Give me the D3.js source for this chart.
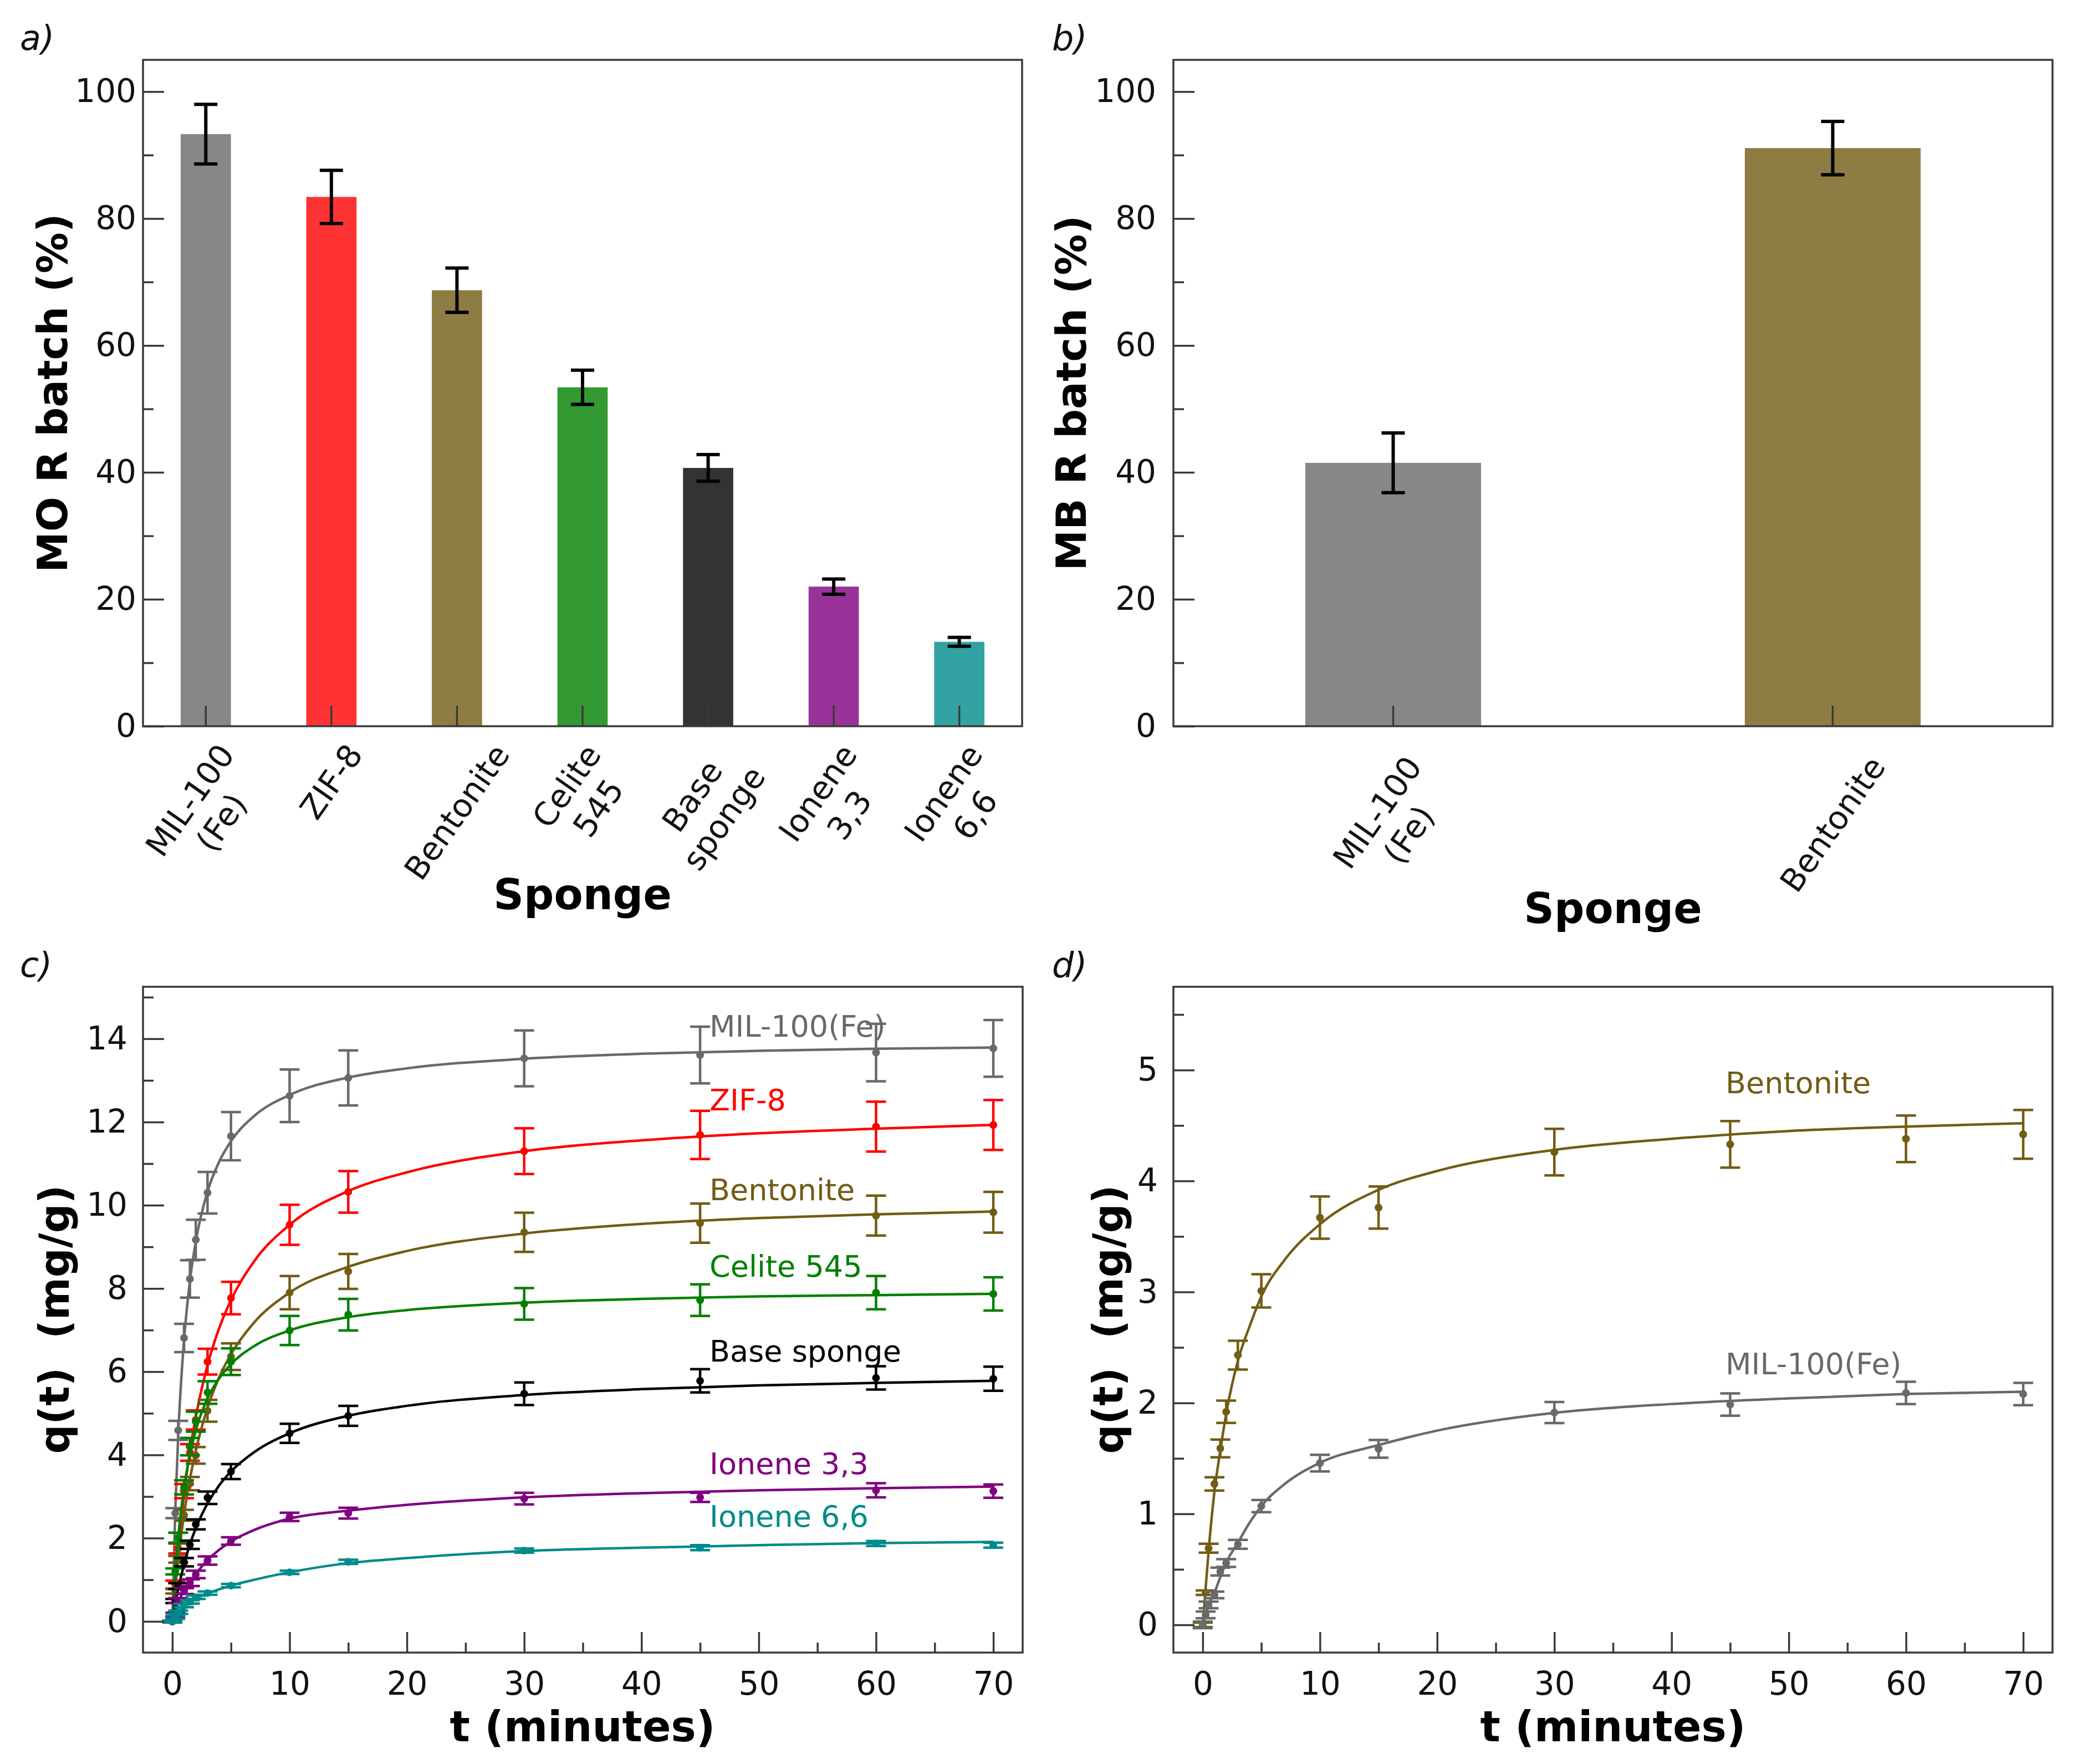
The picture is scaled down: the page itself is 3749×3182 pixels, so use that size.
<!DOCTYPE html>
<html lang="en">
<head>
<meta charset="UTF-8" />
<title>Sponge dye removal and kinetics</title>
<script src="https://cdnjs.cloudflare.com/ajax/libs/d3/7.8.5/d3.min.js"></script>
<style>
    body { margin: 0; background: #ffffff; }
    svg { display: block; font-family: "DejaVu Sans", sans-serif; }
</style>
</head>
<body>
<svg id="fig" width="3749" height="3182"></svg>
<script>
    // ---- panel a: MO removal, batch ----
    var spongesA = ["MIL-100\n(Fe)", "ZIF-8", "Bentonite", "Celite\n545", "Base\nsponge", "Ionene\n3,3", "Ionene\n6,6"];
    var removalMO = [93.3, 83.4, 68.7, 53.4, 40.7, 22.0, 13.3];
    var removalMOErr = [4.7, 4.2, 3.5, 2.7, 2.1, 1.2, 0.7];
    var colorsA = ["#696969", "#ff0000", "#725c14", "#008000", "#000000", "#800080", "#008b8b"];

    // ---- panel b: MB removal, batch ----
    var spongesB = ["MIL-100\n(Fe)", "Bentonite"];
    var removalMB = [41.5, 91.1];
    var removalMBErr = [4.7, 4.2];
    var colorsB = ["#696969", "#725c14"];

    // ---- panel c: MO kinetics ----
    var seriesC = ["MIL-100(Fe)", "ZIF-8", "Bentonite", "Celite 545", "Base sponge", "Ionene 3,3", "Ionene 6,6"];
    var colorsC = ["#696969", "#ff0000", "#725c14", "#008000", "#000000", "#800080", "#008b8b"];
    var timeC = [0, 0.25, 0.5, 1, 1.5, 2, 3, 5, 10, 15, 30, 45, 60, 70];
    var qMil = [0, 2.6, 4.59, 6.81, 8.23, 9.17, 10.30, 11.66, 12.63, 13.06, 13.53, 13.61, 13.67, 13.77];
    var qMilErr = [0.02, 0.12, 0.23, 0.34, 0.45, 0.48, 0.5, 0.58, 0.63, 0.66, 0.67, 0.68, 0.69, 0.68];
    var qZif = [0, 0.88, 1.75, 3.13, 4.06, 4.84, 6.24, 7.77, 9.53, 10.32, 11.30, 11.69, 11.89, 11.93];
    var qZifErr = [0.02, 0.1, 0.12, 0.17, 0.2, 0.23, 0.31, 0.39, 0.48, 0.5, 0.55, 0.58, 0.6, 0.6];
    var qBen = [0, 0.73, 1.49, 2.55, 3.31, 3.99, 5.06, 6.36, 7.90, 8.41, 9.35, 9.57, 9.75, 9.83];
    var qBenErr = [0.02, 0.06, 0.08, 0.13, 0.16, 0.2, 0.26, 0.32, 0.4, 0.42, 0.47, 0.47, 0.48, 0.49];
    var qCel = [0, 1.2, 2.01, 3.22, 4.2, 4.8, 5.5, 6.24, 6.99, 7.37, 7.63, 7.72, 7.90, 7.87];
    var qCelErr = [0.02, 0.07, 0.12, 0.17, 0.21, 0.24, 0.27, 0.32, 0.35, 0.38, 0.38, 0.38, 0.4, 0.4];
    var qBase = [0, 0.49, 0.85, 1.42, 1.84, 2.33, 2.97, 3.60, 4.52, 4.94, 5.47, 5.78, 5.85, 5.83];
    var qBaseErr = [0.02, 0.05, 0.07, 0.1, 0.1, 0.12, 0.15, 0.18, 0.23, 0.24, 0.27, 0.28, 0.28, 0.29];
    var qI33 = [0, 0.16, 0.5, 0.73, 0.93, 1.13, 1.46, 1.93, 2.51, 2.60, 2.95, 2.98, 3.15, 3.13];
    var qI33Err = [0.02, 0.05, 0.06, 0.07, 0.08, 0.09, 0.1, 0.09, 0.1, 0.13, 0.14, 0.11, 0.17, 0.16];
    var qI66 = [0, 0.1, 0.22, 0.38, 0.47, 0.58, 0.68, 0.86, 1.18, 1.43, 1.70, 1.77, 1.87, 1.83];
    var qI66Err = [0.02, 0.04, 0.04, 0.04, 0.04, 0.04, 0.04, 0.04, 0.04, 0.05, 0.05, 0.06, 0.06, 0.06];

    // fitted curves
    var timeFit = [0, 0.25, 0.5, 1, 1.5, 2, 3, 4, 5, 7, 10, 15, 20, 30, 40, 50, 60, 70];
    var fitMil = [0, 2.66, 4.47, 6.77, 8.18, 9.13, 10.33, 11.05, 11.54, 12.15, 12.65, 13.07, 13.29, 13.52, 13.64, 13.71, 13.76, 13.79];
    var fitZif = [0, 0.94, 1.75, 3.06, 4.09, 4.91, 6.16, 7.05, 7.72, 8.66, 9.53, 10.34, 10.79, 11.30, 11.56, 11.73, 11.84, 11.93];
    var fitBen = [0, 0.79, 1.47, 2.57, 3.42, 4.10, 5.13, 5.87, 6.42, 7.19, 7.90, 8.52, 8.90, 9.32, 9.55, 9.69, 9.78, 9.85];
    var fitCel = [0, 1.15, 2.01, 3.21, 4.01, 4.59, 5.36, 5.84, 6.18, 6.62, 6.99, 7.31, 7.48, 7.66, 7.75, 7.81, 7.84, 7.87];
    var fitBase = [0, 0.41, 0.77, 1.37, 1.85, 2.24, 2.83, 3.27, 3.60, 4.07, 4.52, 4.94, 5.18, 5.44, 5.58, 5.67, 5.73, 5.78];
    var fitI33 = [0, 0.2, 0.45, 0.74, 0.95, 1.14, 1.47, 1.72, 1.92, 2.2, 2.47, 2.66, 2.8, 2.98, 3.08, 3.15, 3.2, 3.24];
    var fitI66 = [0, 0.1, 0.2, 0.36, 0.46, 0.55, 0.67, 0.77, 0.86, 1.0, 1.18, 1.4, 1.52, 1.69, 1.77, 1.83, 1.88, 1.91];
    var labelPosC = [14.05, 12.28, 10.12, 8.28, 6.24, 3.54, 2.27];

    // ---- panel d: MB kinetics ----
    var seriesD = ["Bentonite", "MIL-100(Fe)"];
    var colorsD = ["#725c14", "#696969"];
    var timeD = [0, 0.25, 0.5, 1, 1.5, 2, 3, 5, 10, 15, 30, 45, 60, 70];
    var qBenD = [0, 0.29, 0.69, 1.27, 1.59, 1.92, 2.43, 3.01, 3.67, 3.76, 4.26, 4.33, 4.38, 4.42];
    var qBenDErr = [0.02, 0.02, 0.04, 0.06, 0.08, 0.1, 0.13, 0.15, 0.19, 0.19, 0.21, 0.21, 0.21, 0.22];
    var qMilD = [0, 0.09, 0.18, 0.27, 0.48, 0.557, 0.725, 1.07, 1.457, 1.586, 1.913, 1.985, 2.09, 2.08];
    var qMilDErr = [0.03, 0.03, 0.03, 0.03, 0.035, 0.035, 0.04, 0.055, 0.075, 0.08, 0.095, 0.1, 0.1, 0.1];
    var fitBenD = [0, 0.33, 0.66, 1.2, 1.57, 1.9, 2.38, 2.69, 2.96, 3.29, 3.61, 3.92, 4.09, 4.28, 4.38, 4.45, 4.49, 4.52];
    var fitMilD = [0, 0.09, 0.18, 0.29, 0.43, 0.56, 0.74, 0.92, 1.07, 1.27, 1.46, 1.62, 1.75, 1.91, 1.99, 2.04, 2.08, 2.10];
    var labelPosD = [4.79, 2.26];

    var svg = d3.select("#fig");
    svg.append("rect").attr("width", 3749).attr("height", 3182).attr("fill", "#ffffff");

    var spine = "#3a3a3a";

    // frame round a plot box
    function frame(x0, y0, x1, y1) {
        svg.append("rect")
            .attr("x", x0).attr("y", y0)
            .attr("width", x1 - x0).attr("height", y1 - y0)
            .attr("fill", "none").attr("stroke", spine).attr("stroke-width", 3.5);
    }

    // inward ticks with d3 axes, labels optional
    function styleAxis(g) {
        g.select(".domain").remove();
        g.selectAll(".tick line").attr("stroke", spine).attr("stroke-width", 3.5);
        g.selectAll(".tick text")
            .attr("fill", "#111")
            .attr("font-size", 58)
            .attr("font-family", "DejaVu Sans, sans-serif");
    }

    function leftAxis(y, x0, major, minor, pad, fmt) {
        var g = svg.append("g").attr("transform", "translate(" + x0 + ",0)");
        g.call(d3.axisLeft(y).tickValues(minor).tickSize(-19).tickFormat(""));
        styleAxis(g);
        var g2 = svg.append("g").attr("transform", "translate(" + x0 + ",0)");
        g2.call(d3.axisLeft(y).tickValues(major).tickSize(-38).tickPadding(pad).tickFormat(fmt || d3.format("d")));
        styleAxis(g2);
    }

    function bottomAxis(x, y0, major, minor, pad) {
        if (minor) {
            var g = svg.append("g").attr("transform", "translate(0," + y0 + ")");
            g.call(d3.axisBottom(x).tickValues(minor).tickSize(-18).tickFormat(""));
            styleAxis(g);
        }
        var g2 = svg.append("g").attr("transform", "translate(0," + y0 + ")");
        g2.call(d3.axisBottom(x).tickValues(major).tickSize(-37).tickPadding(pad).tickFormat(d3.format("d")));
        styleAxis(g2);
        return g2;
    }

    // rotated category labels, bbox centred on the tick, top at a fixed line
    function rotatedLabels(labels, xs, top, angle) {
        var a = angle * Math.PI / 180;
        labels.forEach(function (lab, i) {
            var t = svg.append("text")
                .attr("text-anchor", "middle")
                .attr("font-size", 58)
                .attr("fill", "#111");
            lab.split("\n").forEach(function (line, k) {
                t.append("tspan").attr("x", 0).attr("dy", k === 0 ? 0 : "1.2em").text(line);
            });
            var b = t.node().getBBox();
            var pts = [[b.x, b.y], [b.x + b.width, b.y], [b.x, b.y + b.height], [b.x + b.width, b.y + b.height]]
                .map(function (p) {
                    return [p[0] * Math.cos(a) + p[1] * Math.sin(a), -p[0] * Math.sin(a) + p[1] * Math.cos(a)];
                });
            var minX = d3.min(pts, p => p[0]), maxX = d3.max(pts, p => p[0]), minY = d3.min(pts, p => p[1]);
            t.attr("transform", "translate(" + (xs[i] - (minX + maxX) / 2) + "," + (top - minY) + ") rotate(" + (-angle) + ")");
        });
    }

    function yLabel(text, x, y) {
        svg.append("text")
            .attr("transform", "translate(" + x + "," + y + ") rotate(-90)")
            .attr("text-anchor", "middle")
            .attr("font-size", 74).attr("font-weight", "bold")
            .attr("fill", "#000")
            .style("white-space", "pre")
            .text(text);
    }

    function xLabel(text, x, y) {
        svg.append("text")
            .attr("x", x).attr("y", y)
            .attr("text-anchor", "middle")
            .attr("font-size", 76).attr("font-weight", "bold")
            .attr("fill", "#000")
            .text(text);
    }

    function panelLetter(text, x, y) {
        svg.append("text")
            .attr("x", x).attr("y", y)
            .attr("font-size", 62).attr("font-style", "italic")
            .attr("fill", "#111")
            .text(text);
    }

    // bar panel with error bars
    function barPanel(cats, vals, errs, colors, box, pad, labelTop) {
        var x = d3.scaleBand()
            .domain(d3.range(cats.length))
            .range([box.x0, box.x1])
            .paddingInner(0.6)
            .paddingOuter(0.3);
        var y = d3.scaleLinear().domain([0, 105]).range([box.y1, box.y0]);

        svg.append("g").selectAll("rect")
            .data(vals)
            .enter()
            .append("rect")
            .attr("x", (d, i) => x(i))
            .attr("y", d => y(d))
            .attr("width", x.bandwidth())
            .attr("height", d => y(0) - y(d))
            .attr("fill", (d, i) => colors[i])
            .attr("fill-opacity", 0.8);

        var eb = svg.append("g").attr("stroke", "#000").attr("stroke-width", 6);
        vals.forEach(function (v, i) {
            var cx = x(i) + x.bandwidth() / 2;
            eb.append("line").attr("x1", cx).attr("x2", cx).attr("y1", y(v - errs[i])).attr("y2", y(v + errs[i]));
            [v - errs[i], v + errs[i]].forEach(function (e) {
                eb.append("line").attr("x1", cx - 21).attr("x2", cx + 21).attr("y1", y(e)).attr("y2", y(e));
            });
        });

        leftAxis(y, box.x0, [0, 20, 40, 60, 80, 100], [10, 30, 50, 70, 90], pad);
        var gb = svg.append("g").attr("transform", "translate(0," + box.y1 + ")");
        gb.call(d3.axisBottom(x).tickSize(-37).tickFormat(""));
        styleAxis(gb);
        frame(box.x0, box.y0, box.x1, box.y1);

        rotatedLabels(cats, cats.map((c, i) => x(i) + x.bandwidth() / 2), labelTop, 55);
    }

    // kinetics panel
    function kineticsPanel(box, yDom, yMajor, yMinor, series, fmtY) {
        var x = d3.scaleLinear().domain([-2.5, 72.5]).range([box.x0, box.x1]);
        var y = d3.scaleLinear().domain(yDom).range([box.y1, box.y0]);
        var line = d3.line()
            .x(d => x(d[0]))
            .y(d => y(d[1]))
            .curve(d3.curveMonotoneX);

        series.forEach(function (s) {
            var g = svg.append("g");
            var eb = g.append("g").attr("stroke", s.color).attr("stroke-width", 4.5);
            s.t.forEach(function (t, i) {
                var cx = x(t), lo = s.q[i] - s.e[i], hi = s.q[i] + s.e[i];
                eb.append("line").attr("x1", cx).attr("x2", cx).attr("y1", y(lo)).attr("y2", y(hi));
                [lo, hi].forEach(function (e) {
                    eb.append("line").attr("x1", cx - 18).attr("x2", cx + 18).attr("y1", y(e)).attr("y2", y(e));
                });
            });
            g.append("path")
                .datum(timeFit.map((t, i) => [t, s.fit[i]]))
                .attr("d", line)
                .attr("fill", "none")
                .attr("stroke", s.color)
                .attr("stroke-width", 4.5);
            g.selectAll("circle")
                .data(s.t)
                .enter()
                .append("circle")
                .attr("cx", d => x(d))
                .attr("cy", (d, i) => y(s.q[i]))
                .attr("r", 7)
                .attr("fill", s.color);
        });

        series.forEach(function (s) {
            svg.append("text")
                .attr("x", x(s.lx)).attr("y", y(s.ly))
                .attr("font-size", 54)
                .attr("fill", s.color)
                .text(s.name);
        });

        leftAxis(y, box.x0, yMajor, yMinor, 28, fmtY);
        bottomAxis(x, box.y1, [0, 10, 20, 30, 40, 50, 60, 70], [5, 15, 25, 35, 45, 55, 65], 35);
        frame(box.x0, box.y0, box.x1, box.y1);
    }

    // ---- draw ----
    barPanel(spongesA, removalMO, removalMOErr, colorsA, { x0: 258, x1: 1844, y0: 108, y1: 1310 }, 12, 1330);
    barPanel(spongesB, removalMB, removalMBErr, colorsB, { x0: 2117, x1: 3703, y0: 108, y1: 1310 }, 31, 1352);

    var dataC = [
        [qMil, qMilErr, fitMil], [qZif, qZifErr, fitZif], [qBen, qBenErr, fitBen], [qCel, qCelErr, fitCel],
        [qBase, qBaseErr, fitBase], [qI33, qI33Err, fitI33], [qI66, qI66Err, fitI66]
    ];
    kineticsPanel({ x0: 258, x1: 1845, y0: 1780, y1: 2981 }, [-0.75, 15.25],
        [0, 2, 4, 6, 8, 10, 12, 14], [1, 3, 5, 7, 9, 11, 13, 15],
        seriesC.map(function (name, i) {
            return { name: name, color: colorsC[i], t: timeC, q: dataC[i][0], e: dataC[i][1], fit: dataC[i][2], lx: 45.8, ly: labelPosC[i] };
        }));

    var dataD = [[qBenD, qBenDErr, fitBenD], [qMilD, qMilDErr, fitMilD]];
    kineticsPanel({ x0: 2117, x1: 3703, y0: 1780, y1: 2981 }, [-0.25, 5.75],
        [0, 1, 2, 3, 4, 5], [0.5, 1.5, 2.5, 3.5, 4.5, 5.5],
        seriesD.map(function (name, i) {
            return { name: name, color: colorsD[i], t: timeD, q: dataD[i][0], e: dataD[i][1], fit: dataD[i][2], lx: 44.6, ly: labelPosD[i] };
        }));

    // axis titles and panel letters
    yLabel("MO R batch (%)", 121, 709);
    yLabel("MB R batch (%)", 1959, 709);
    yLabel("q(t)  (mg/g)", 124, 2380);
    yLabel("q(t)  (mg/g)", 2025, 2380);
    xLabel("Sponge", 1051, 1640);
    xLabel("Sponge", 2910, 1665);
    xLabel("t (minutes)", 1051, 3141);
    xLabel("t (minutes)", 2910, 3141);

    panelLetter("a)", 36, 90);
    panelLetter("b)", 1898, 90);
    panelLetter("c)", 36, 1762);
    panelLetter("d)", 1898, 1762);
</script>
</body>
</html>
